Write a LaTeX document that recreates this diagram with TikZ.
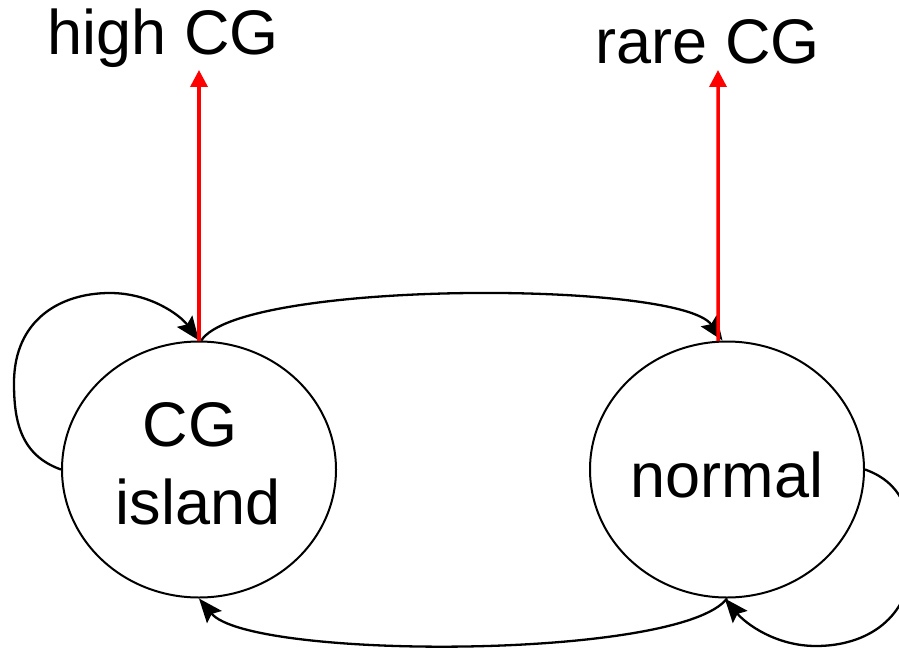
\documentclass[tikz,border=0pt]{standalone}
\usepackage{fontspec}
\setmainfont{Liberation Sans}
\usetikzlibrary{arrows.meta,shapes.geometric}
\begin{document}
\begin{tikzpicture}[x=1pt,y=-1pt,
  state/.style={ellipse,draw=black,line width=2pt,minimum width=274pt,minimum height=256pt,inner sep=0pt},
  lbl/.style={font=\fontsize{63}{76}\selectfont,anchor=base,inner sep=0pt},
  trans/.style={draw=black,line width=2.3pt,-{Stealth[length=24pt,width=19pt,inset=4pt]}},
  emit/.style={draw=red,line width=3.5pt,-{Triangle[length=17pt,width=17pt]}}]
\useasboundingbox (0,0) rectangle (899,650);
\clip (0,0) rectangle (899,650);

% the two states
\node[state] (cg) at (199,469.5) {};
\node[state] (nm) at (727,469.5) {};

% texts
\node[lbl] (highlbl) at (163.5,55) {high CG};
\node[lbl] (rarelbl) at (708,64) {rare CG};
\node[lbl] (cglbl) at (190,446) {CG};
\node[lbl] (islandlbl) at (198,524) {island};
\node[lbl] (normallbl) at (727,497) {normal};

% emission tips
\coordinate (hightip) at (199,70);
\coordinate (raretip) at (718,70);

% transitions between the states
\draw[trans] (cg.89) .. controls (240,280) and (680,280) .. (nm.92);
\draw[trans] (nm.south) .. controls (680,660) and (250,660) .. (cg.south);

% self loops
\draw[trans] (cg.west) .. controls (20,455) and (14,420) .. (14,383)
  .. controls (14,320) and (60,293) .. (110,293)
  .. controls (150,293) and (180,315) .. (cg.north);
\draw[trans] (nm.east) .. controls (906,484) and (912,519) .. (912,556)
  .. controls (912,619) and (866,646) .. (816,646)
  .. controls (776,646) and (746,624) .. (nm.269);

% emissions
\draw[emit] (cg.north) -- (hightip);
\draw[emit] (nm.94) -- (raretip);
\end{tikzpicture}
\end{document}
